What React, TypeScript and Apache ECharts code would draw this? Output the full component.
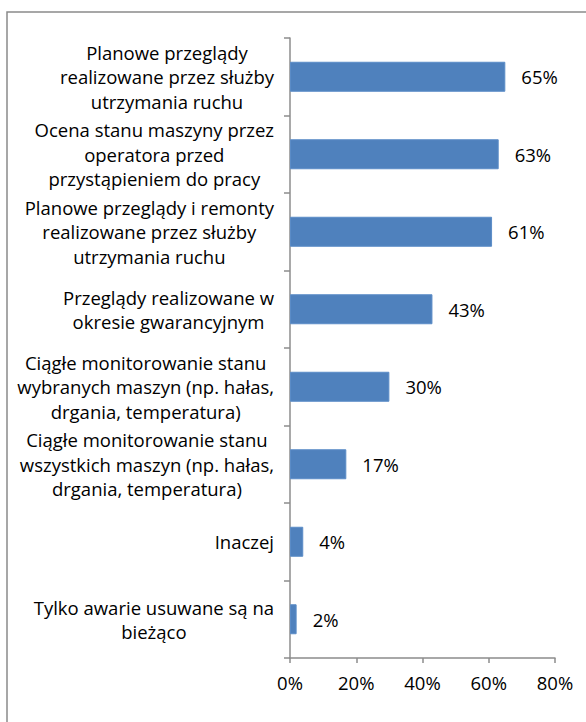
import React, { useEffect, useRef } from "react";
import * as echarts from "echarts";

const categories: string[] = [
  "Planowe przeglądy\nrealizowane przez służby\nutrzymania ruchu",
  "Ocena stanu maszyny przez\noperatora przed\nprzystąpieniem do pracy",
  "Planowe przeglądy i remonty\nrealizowane przez służby\nutrzymania ruchu",
  "Przeglądy realizowane w\nokresie gwarancyjnym",
  "Ciągłe monitorowanie stanu\nwybranych maszyn (np. hałas,\ndrgania, temperatura)",
  "Ciągłe monitorowanie stanu\nwszystkich maszyn (np. hałas,\ndrgania, temperatura)",
  "Inaczej",
  "Tylko awarie usuwane są na\nbieżąco",
];

const values: number[] = [65, 63, 61, 43, 30, 17, 4, 2];

const xTicks = { min: 0, max: 80, interval: 20 };

const FONT = "Open Sans";
const FS = 18.5;

export default function App() {
  const ref = useRef<HTMLDivElement>(null);
  useEffect(() => {
    if (!ref.current) return;
    const chart = echarts.init(ref.current, null, { renderer: "svg" });
    chart.setOption({
      animation: false,
      textStyle: { fontFamily: FONT },
      graphic: [
        {
          type: "rect",
          shape: { x: 7, y: 12, width: 700, height: 800 },
          style: { fill: "none", stroke: "#8a8a8a", lineWidth: 1.5 },
          silent: true,
        },
      ],
      grid: { left: 290, right: 31, top: 38, bottom: 64, containLabel: false },
      xAxis: {
        type: "value",
        min: xTicks.min,
        max: xTicks.max,
        interval: xTicks.interval,
        axisLine: { show: true, lineStyle: { color: "#8c8c8c", width: 1.5 } },
        axisTick: { show: true, length: 5, lineStyle: { color: "#8c8c8c", width: 1.5 } },
        splitLine: { show: false },
        axisLabel: {
          formatter: "{value}%",
          color: "#000",
          fontSize: FS,
          fontFamily: FONT,
          margin: 15,
        },
      },
      yAxis: {
        type: "category",
        data: categories,
        inverse: true,
        axisLine: { show: true, lineStyle: { color: "#8c8c8c", width: 1.5 } },
        axisTick: { show: true, length: 6, lineStyle: { color: "#8c8c8c", width: 1.5 } },
        axisLabel: {
          interval: 0,
          margin: 16,
          align: "right",
          formatter: (v: string) =>
            v
              .split("\n")
              .map((l) => "{c|" + l + "}")
              .join("\n"),
          rich: {
            c: {
              align: "center",
              fontSize: FS,
              lineHeight: 24.5,
              color: "#000",
              fontFamily: FONT,
            },
          },
        },
      },
      series: [
        {
          type: "bar",
          data: values,
          barWidth: 30,
          itemStyle: { color: "#4f81bd", borderColor: "#5b8cc7", borderWidth: 1 },
          label: {
            show: true,
            position: "right",
            distance: 16,
            formatter: "{c}%",
            color: "#000",
            fontSize: FS,
            fontFamily: FONT,
          },
        },
      ],
    });
    return () => chart.dispose();
  }, []);
  return (
    <div
      ref={ref}
      style={{ position: "absolute", left: 0, top: 0, width: 586, height: 722 }}
    />
  );
}
